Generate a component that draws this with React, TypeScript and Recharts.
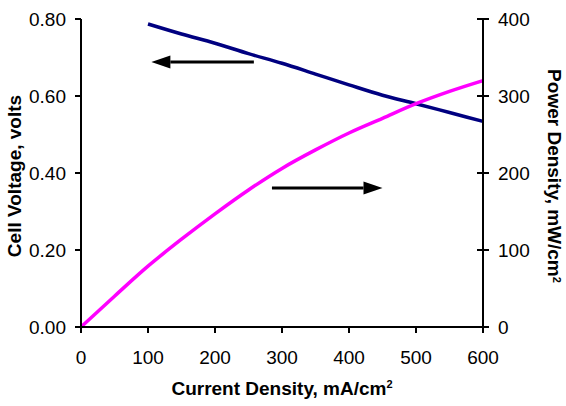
import React from "react";
import { LineChart, Line, XAxis, YAxis, ReferenceLine, Label } from "recharts";

// current density, mA/cm2
const currentDensity = [0, 50, 100, 150, 200, 250, 300, 350, 400, 450, 500, 550, 600];
// cell voltage, volts (no readings below 100 mA/cm2)
const cellVoltage = [null, null, 0.787, 0.761, 0.737, 0.71, 0.685, 0.657, 0.629, 0.602, 0.58, 0.557, 0.534];
// power density, mW/cm2
const powerDensity = [0, 40, 79, 114, 147, 178, 206, 230, 252, 271, 290, 306, 320];

const xTicks = [0, 100, 200, 300, 400, 500, 600];
const voltTicks = [0, 0.2, 0.4, 0.6, 0.8];
const powerTicks = [0, 100, 200, 300, 400];

const data = currentDensity.map((c, i) => ({
  current: c,
  voltage: cellVoltage[i],
  power: powerDensity[i],
}));

const FONT = "'Liberation Sans', Arial, sans-serif";
const TICK_FONT = 19;
const TITLE_FONT = 19;
const TICK_SIZE = 6;
const TICK_MARGIN = 9;

const Arrow = (props: any) => {
  const { x1, y1, x2, y2 } = props;
  const dir = x2 > x1 ? 1 : -1;
  const head = 19;
  const baseX = x2 - dir * head;
  return (
    <g>
      <line x1={x1} y1={y1} x2={baseX} y2={y2} stroke="#000" strokeWidth={3} />
      <polygon points={`${x2},${y2} ${baseX},${y2 - 6.5} ${baseX},${y2 + 6.5}`} fill="#000" />
    </g>
  );
};

const RightTick = (props: any) => {
  const { x, y, payload } = props;
  const axisX = x - TICK_MARGIN - TICK_SIZE;
  return (
    <g>
      <line x1={axisX - 6} y1={y} x2={axisX} y2={y} stroke="#000" strokeWidth={2} />
      <text x={x} y={y} dy="0.355em" textAnchor="start" fill="#000" fontSize={TICK_FONT} fontFamily={FONT}>
        {payload.value}
      </text>
    </g>
  );
};

const XTitle = (props: any) => {
  const { viewBox } = props;
  const cx = viewBox.x + viewBox.width / 2;
  return (
    <text x={cx} y={395} textAnchor="middle" fontSize={TITLE_FONT} fontWeight="bold" fontFamily={FONT} fill="#000">
      Current Density, mA/cm
      <tspan dy={-7} fontSize={11}>2</tspan>
    </text>
  );
};

const LeftTitle = (props: any) => {
  const { viewBox } = props;
  const cy = viewBox.y + viewBox.height / 2 + 3;
  return (
    <text
      x={21}
      y={cy}
      transform={`rotate(-90, 21, ${cy})`}
      textAnchor="middle"
      fontSize={TITLE_FONT}
      fontWeight="bold"
      fontFamily={FONT}
      fill="#000"
    >
      Cell Voltage, volts
    </text>
  );
};

const RightTitle = (props: any) => {
  const { viewBox } = props;
  const cy = viewBox.y + viewBox.height / 2 + 3;
  return (
    <text
      x={548}
      y={cy}
      transform={`rotate(90, 548, ${cy})`}
      textAnchor="middle"
      fontSize={TITLE_FONT}
      fontWeight="bold"
      fontFamily={FONT}
      fill="#000"
    >
      Power Density, mW/cm
      <tspan dy={-5} fontSize={11}>2</tspan>
    </text>
  );
};

export default function App() {
  return (
    <div style={{ position: "absolute", left: 0, top: 0, width: 566, height: 406, background: "#fff" }}>
      <LineChart width={566} height={406} data={data} margin={{ top: 19, right: 0, bottom: 0, left: 0 }}>
        <XAxis
          dataKey="current"
          type="number"
          domain={[0, 600]}
          ticks={xTicks}
          height={79}
          tickSize={TICK_SIZE}
          tickMargin={18}
          axisLine={{ stroke: "#000", strokeWidth: 2 }}
          tickLine={{ stroke: "#000", strokeWidth: 2 }}
          tick={{ fill: "#000", fontSize: TICK_FONT, fontFamily: FONT }}
        >
          <Label content={XTitle} />
        </XAxis>
        <YAxis
          yAxisId="v"
          orientation="left"
          domain={[0, 0.8]}
          ticks={voltTicks}
          width={81}
          tickSize={TICK_SIZE}
          tickMargin={TICK_MARGIN}
          tickFormatter={(v: number) => v.toFixed(2)}
          axisLine={{ stroke: "#000", strokeWidth: 2 }}
          tickLine={{ stroke: "#000", strokeWidth: 2 }}
          tick={{ fill: "#000", fontSize: TICK_FONT, fontFamily: FONT }}
        >
          <Label content={LeftTitle} />
        </YAxis>
        <YAxis
          yAxisId="p"
          orientation="right"
          domain={[0, 400]}
          ticks={powerTicks}
          width={83}
          tickSize={TICK_SIZE}
          tickMargin={TICK_MARGIN}
          axisLine={{ stroke: "#000", strokeWidth: 2 }}
          tickLine={{ stroke: "#000", strokeWidth: 2 }}
          tick={RightTick}
        >
          <Label content={RightTitle} />
        </YAxis>
        <Line
          yAxisId="v"
          type="monotone"
          dataKey="voltage"
          stroke="#000080"
          strokeWidth={3.5}
          dot={false}
          isAnimationActive={false}
        />
        <Line
          yAxisId="p"
          type="monotone"
          dataKey="power"
          stroke="#FF00FF"
          strokeWidth={3.5}
          dot={false}
          isAnimationActive={false}
        />
        <ReferenceLine
          yAxisId="v"
          segment={[{ x: 258, y: 0.688 }, { x: 105, y: 0.688 }]}
          shape={Arrow}
          ifOverflow="visible"
        />
        <ReferenceLine
          yAxisId="v"
          segment={[{ x: 285, y: 0.361 }, { x: 450, y: 0.361 }]}
          shape={Arrow}
          ifOverflow="visible"
        />
      </LineChart>
    </div>
  );
}
